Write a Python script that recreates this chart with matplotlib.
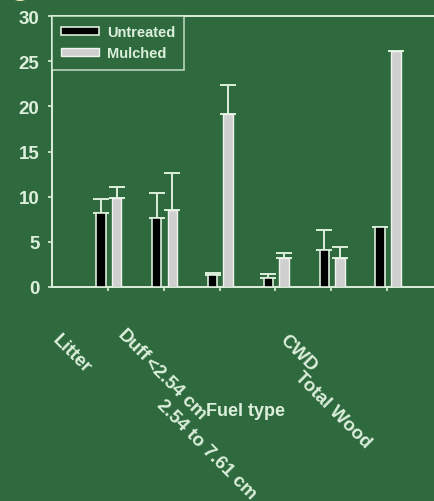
import matplotlib.pyplot as plt
import numpy as np
from matplotlib.patches import Ellipse

plt.rcParams['font.family'] = ['Liberation Sans', 'DejaVu Sans']
plt.rcParams['font.weight'] = 'bold'

BG = '#2e6a3d'
FG = '#dcefdc'
GREY = '#cfcfcf'

fuel_types = ['Litter', 'Duff', '<2.54 cm', '2.54 to 7.61 cm', 'CWD', 'Total Wood']
untreated = np.array([8.2, 7.6, 1.3, 0.95, 4.1, 6.6])
untreated_err = np.array([1.5, 2.8, 0.3, 0.45, 2.2, np.nan])
mulched = np.array([9.8, 8.5, 19.2, 3.2, 3.2, 26.1])
mulched_err = np.array([1.3, 4.1, 3.2, 0.6, 1.2, np.nan])

# where each rotated tick label starts, in figure pixels (from top-left)
label_px = [(61, 332), (126, 327), (153, 355), (165, 397), (288, 332), (303, 369)]

W, H = 434, 502
fig = plt.figure(figsize=(W / 100, H / 100), dpi=100, facecolor=BG)
ax = fig.add_axes([52 / W, 1 - 288 / H, 391 / W, 271 / H], facecolor=BG)

x = np.arange(len(fuel_types))
bw = 0.17
ax.bar(x - 0.125, untreated, bw, color='black', edgecolor=FG, linewidth=1.2, label='Untreated', zorder=3)
ax.bar(x + 0.155, mulched, bw, color=GREY, edgecolor='#eef5ee', linewidth=1.0, label='Mulched', zorder=3)
ax.errorbar(x - 0.125, untreated, yerr=[np.zeros_like(untreated_err), untreated_err], fmt='none',
            ecolor=FG, elinewidth=1.4, capsize=6, capthick=1.4, zorder=2)
ax.errorbar(x + 0.155, mulched, yerr=[np.zeros_like(mulched_err), mulched_err], fmt='none',
            ecolor=FG, elinewidth=1.4, capsize=6, capthick=1.4, zorder=2)

ax.set_xlim(-1, 6)
ax.set_ylim(0, 30)
ax.set_yticks(np.arange(0, 31, 5))
ax.set_xticks(x)
ax.set_xticklabels([])
ax.tick_params(colors=FG, labelsize=13.5, length=3, width=1.2)
ax.tick_params(axis='y', pad=6)
for lbl in ax.get_yticklabels():
    lbl.set_fontweight('bold')
for sp in ax.spines.values():
    sp.set_color(FG)
    sp.set_linewidth(1.4)

for name, (px, py) in zip(fuel_types, label_px):
    fig.text(px / W, 1 - py / H, name, rotation=-45, rotation_mode='anchor',
             ha='left', va='top', color=FG, fontsize=13.5, fontweight='bold')
fig.text(246 / W, 1 - 412 / H, 'Fuel type', ha='center', va='center',
         color=FG, fontsize=13, fontweight='bold')

leg = ax.legend(loc='upper left', bbox_to_anchor=(0, 1), borderaxespad=0,
                frameon=True, fancybox=False, fontsize=10.5,
                handlelength=2.6, handleheight=0.45, labelspacing=0.45,
                borderpad=0.65, handletextpad=0.5)
leg.get_frame().set_facecolor(BG)
leg.get_frame().set_edgecolor(FG)
leg.get_frame().set_linewidth(1.2)
for t in leg.get_texts():
    t.set_color(FG)
    t.set_fontweight('bold')

# partly hidden panel badge in the corner
fig.patches.append(Ellipse((20 / W, 1 + 5 / H), 20 / W, 14 / H, transform=fig.transFigure,
                           facecolor='#f2e6b8', edgecolor='none'))

fig.savefig('out.png', dpi=100, facecolor=BG)
